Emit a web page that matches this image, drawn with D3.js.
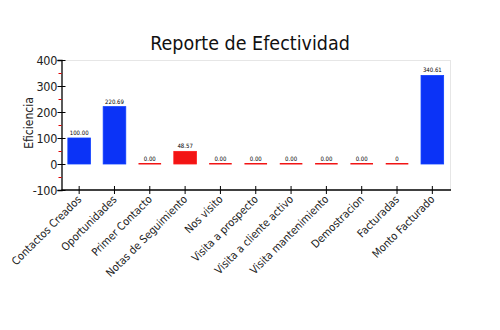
<!DOCTYPE html>
<html><head><meta charset="utf-8">
<script src="https://cdn.jsdelivr.net/npm/d3@7"></script>
<style>body{margin:0;background:#fff}svg{display:block}text{font-family:"DejaVu Sans Condensed","Liberation Sans Narrow","DejaVu Sans",sans-serif}</style>
</head><body><svg id="c" width="500" height="330"></svg>
<script>
const categories = ["Contactos Creados","Oportunidades","Primer Contacto","Notas de Seguimiento","Nos visito","Visita a prospecto","Visita a cliente activo","Visita mantenimiento","Demostracion","Facturadas","Monto Facturado"];
const values = [100.00, 220.69, 0, 48.57, 0, 0, 0, 0, 0, 0, 340.61];
const valueLabels = ["100.00","220.69","0.00","48.57","0.00","0.00","0.00","0.00","0.00","0","340.61"];
const barColors = ["#0b33f7","#0b33f7","#f21414","#f21414","#f21414","#f21414","#f21414","#f21414","#f21414","#f21414","#0b33f7"];
const yTicks = [-100,0,100,200,300,400];
const yMinorTicks = [-50,50,150,250,350];

const svg = d3.select("#c");
const m = {l:61.5, r:450, t:60, b:190};
const x = d3.scaleBand().domain(categories).range([m.l, m.r]).paddingInner(0.36).paddingOuter(0.18);
const y = d3.scaleLinear().domain([-100,400]).range([m.b, m.t]);

// frame (top & right)
svg.append("line").attr("x1",m.l).attr("x2",m.r).attr("y1",m.t+0.5).attr("y2",m.t+0.5).attr("stroke","#e6e6e6");
svg.append("line").attr("x1",m.r+0.5).attr("x2",m.r+0.5).attr("y1",m.t).attr("y2",m.b).attr("stroke","#e6e6e6");

// bars
const bars = svg.append("g");
categories.forEach((c,i)=>{
  const v = values[i];
  const y0 = y(0), y1 = y(v);
  const h = Math.max(1.5, Math.abs(y0-y1));
  bars.append("rect").attr("x", x(c)).attr("width", x.bandwidth())
    .attr("y", Math.min(y0,y1) - (v===0?1:0)).attr("height", h)
    .attr("fill", barColors[i])
    .attr("stroke", v===0 ? "none" : d3.color(barColors[i]).brighter(0.6)).attr("stroke-width", 0.8);
  svg.append("text").attr("x", x(c)+x.bandwidth()/2).attr("y", Math.min(y0,y1) - 3)
    .attr("text-anchor","middle").attr("font-size",6).attr("fill","#000").text(valueLabels[i]);
});

// y axis
const ya = svg.append("g").attr("transform",`translate(${m.l},0)`)
  .call(d3.axisLeft(y).tickValues(yTicks).tickSize(4).tickFormat(d => String(d)));
ya.select(".domain").attr("stroke","#000").attr("stroke-width",1.3);
ya.selectAll(".tick line").attr("x1",4).attr("x2",-4).attr("stroke","#000");
ya.selectAll(".tick text").attr("font-size",12.5).attr("x",-4.5).attr("fill","#222").attr("letter-spacing",-0.3);
const ym = svg.append("g").attr("transform",`translate(${m.l},0)`)
  .call(d3.axisLeft(y).tickValues(yMinorTicks).tickSize(3).tickFormat(""));
ym.select(".domain").remove();
ym.selectAll(".tick line").attr("stroke","#e00000");

// x axis
const xa = svg.append("g").attr("transform",`translate(0,${m.b})`)
  .call(d3.axisBottom(x).tickSize(4).tickSizeOuter(0));
xa.select(".domain").attr("stroke","#000").attr("stroke-width",1.3).attr("d",`M${m.l},0H${m.r+1}`);
xa.selectAll(".tick line").attr("y1",-4).attr("y2",4).attr("stroke","#000");
xa.selectAll(".tick text").attr("font-size",11).attr("fill","#222")
  .attr("text-anchor","end").attr("dy",0).attr("y",0)
  .attr("transform","translate(3,10) rotate(-45)");

// y label
svg.append("text").attr("transform",`translate(33,${(m.t+m.b)/2 - 2}) rotate(-90)`)
  .attr("text-anchor","middle").attr("font-size",12).attr("fill","#222").text("Eficiencia");

// title
svg.append("text").attr("x",250).attr("y",50).attr("text-anchor","middle")
  .attr("font-size",19.5).attr("fill","#111").text("Reporte de Efectividad");
</script></body></html>
